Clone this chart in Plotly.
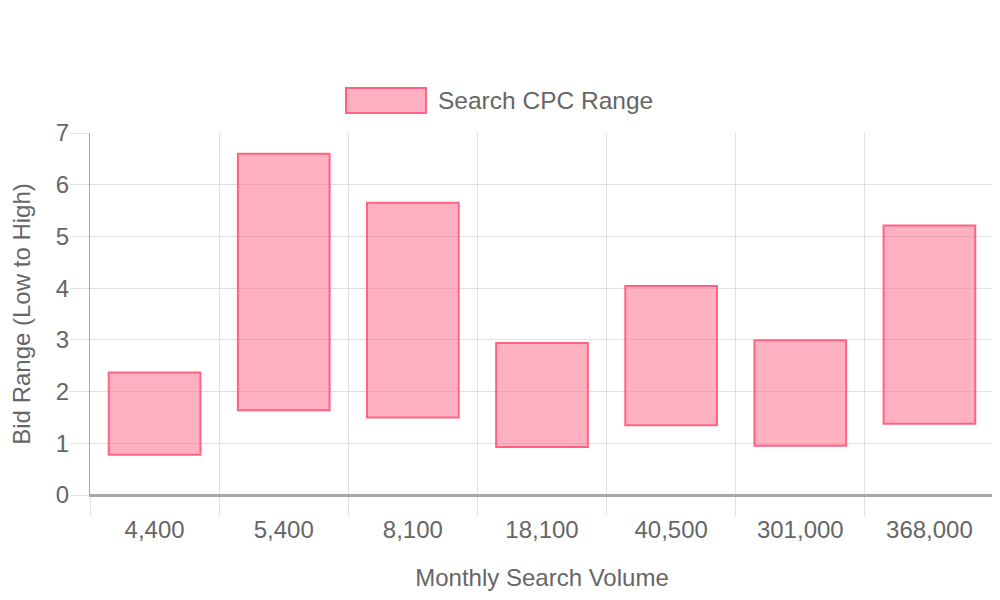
import plotly.graph_objects as go

volumes = ["4,400", "5,400", "8,100", "18,100", "40,500", "301,000", "368,000"]
low_bid = [0.78, 1.64, 1.50, 0.93, 1.35, 0.95, 1.38]
high_bid = [2.37, 6.60, 5.65, 2.94, 4.04, 2.99, 5.21]
series_name = "Search CPC Range"

FILL = "rgba(255,99,132,0.5)"
LINE = "rgb(255,99,132)"
TXT = "#666666"
GRID = "#e0e0e0"
AXIS = "#aaaaaa"
FONT = "Liberation Sans, Arial, Helvetica, sans-serif"

fig = go.Figure()
fig.add_trace(go.Bar(
    x=volumes,
    y=[h - l for h, l in zip(high_bid, low_bid)],
    base=low_bid,
    name=series_name,
    width=0.71,
    marker=dict(color=FILL, line=dict(color=LINE, width=2)),
    showlegend=False,
))

# page body has an 8px margin, so the figure is offset by 8px right and down
fig.update_layout(
    width=1000, height=600,
    margin=dict(l=82, r=14, t=125, b=113),
    paper_bgcolor="white", plot_bgcolor="white",
    font=dict(family=FONT, size=24, color=TXT),
    showlegend=False,
    xaxis=dict(
        type="category",
        automargin=False,
        tickson="boundaries",
        ticks="outside", ticklen=19, tickcolor=GRID, tickwidth=1,
        ticklabelstandoff=12,
        showgrid=True, gridcolor=GRID, gridwidth=1,
        showline=True, linecolor=AXIS, linewidth=2,
        tickfont=dict(size=24, color=TXT),
        title=dict(text="Monthly Search Volume", font=dict(size=24, color=TXT), standoff=27),
        zeroline=False,
    ),
    yaxis=dict(
        automargin=False,
        range=[0, 7], dtick=1, tick0=0,
        ticks="outside", ticklen=19, tickcolor=GRID, tickwidth=1,
        ticklabelstandoff=-4,
        showgrid=True, gridcolor=GRID, gridwidth=1,
        showline=True, linecolor=AXIS, linewidth=1,
        zeroline=True, zerolinecolor=AXIS, zerolinewidth=2,
        tickfont=dict(size=24, color=TXT),
        title=dict(text="Bid Range (Low to High)", font=dict(size=24, color=TXT), standoff=18),
    ),
)

# legend drawn manually to match the wide swatch (paper coords of plot area 90..994, 133..495)
px_w, px_h = 904.0, 362.0
def px_x(x):
    return (x - 90) / px_w
def px_y(y):
    return (495 - y) / px_h

fig.add_shape(type="rect", xref="paper", yref="paper",
              x0=px_x(346), x1=px_x(426), y0=px_y(113), y1=px_y(88),
              fillcolor=FILL, line=dict(color=LINE, width=2))
fig.add_annotation(xref="paper", yref="paper", x=px_x(436), y=px_y(100.5),
                   text=series_name, showarrow=False, xanchor="left", yanchor="middle",
                   font=dict(size=24.5, color=TXT, family=FONT))

fig.write_html("out.html")
